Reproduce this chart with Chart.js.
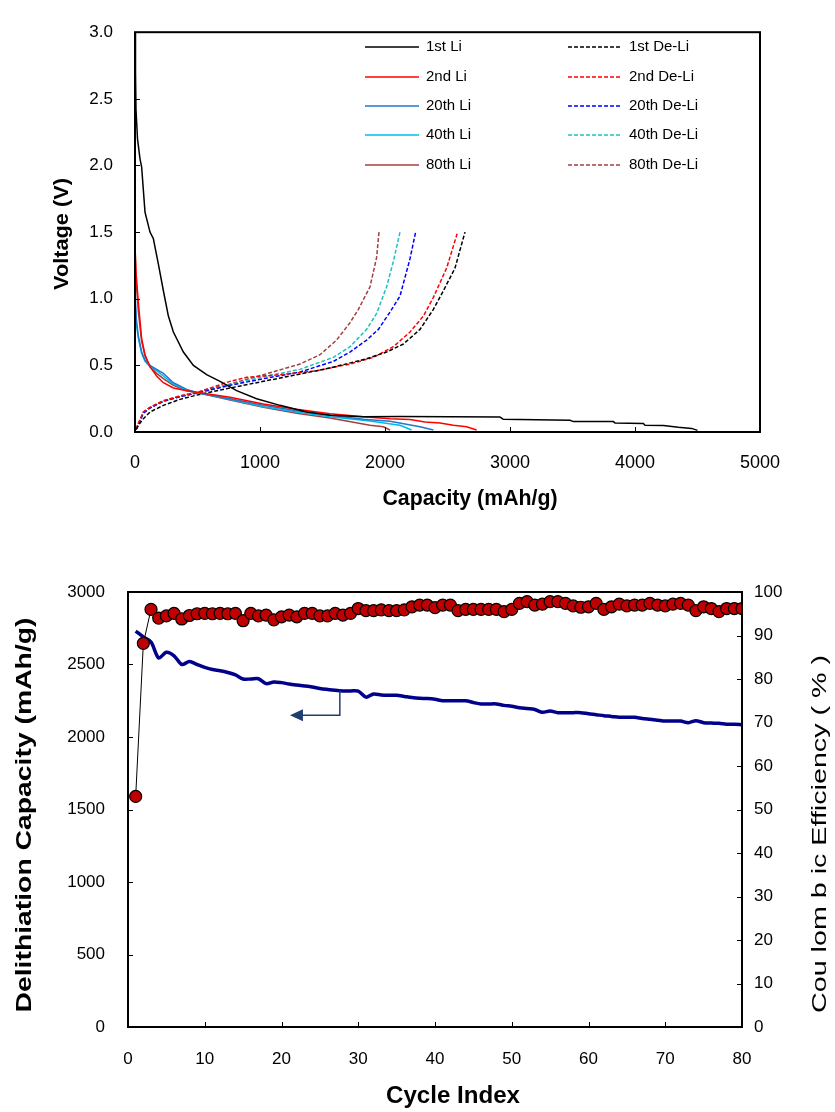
<!DOCTYPE html>
<html>
<head>
<meta charset="utf-8">
<script src="https://cdn.jsdelivr.net/npm/chart.js@4.4.1/dist/chart.umd.min.js"></script>
<style>
  body { margin: 0; background: #fff; }
  #wrap { position: relative; width: 835px; height: 1112px; }
  #top { position: absolute; left: 0; top: 0; }
  #bottom { position: absolute; left: 0; top: 540px; }
</style>
</head>
<body>
<div id="wrap">
  <canvas id="top" width="835" height="530"></canvas>
  <canvas id="bottom" width="835" height="572"></canvas>
</div>
<script>
// ---- voltage profiles: [capacity mAh/g, voltage V] ----
const li1 = [[0,3.0],[4,2.7],[8,2.42],[20,2.2],[40,2.05],[53,1.99],[80,1.65],[120,1.50],[147,1.45],[187,1.26],[227,1.06],[267,0.87],[307,0.75],[387,0.60],[467,0.50],[573,0.43],[680,0.38],[813,0.31],[973,0.25],[1160,0.20],[1373,0.15],[1560,0.125],[1827,0.115],[2120,0.117],[2920,0.112],[2947,0.095],[3480,0.088],[3507,0.078],[3827,0.078],[3840,0.068],[4067,0.063],[4080,0.05],[4227,0.049],[4347,0.035],[4453,0.027],[4500,0.012]];
const li2 = [[0,1.40],[8,1.2],[27,0.97],[53,0.70],[80,0.58],[120,0.49],[173,0.42],[227,0.37],[307,0.33],[413,0.31],[520,0.295],[760,0.26],[1027,0.21],[1293,0.17],[1560,0.137],[1827,0.115],[2040,0.10],[2200,0.093],[2320,0.075],[2440,0.068],[2547,0.051],[2653,0.039],[2733,0.015]];
const li20 = [[0,1.05],[10,0.85],[27,0.72],[53,0.60],[80,0.54],[120,0.50],[173,0.47],[227,0.44],[307,0.37],[413,0.32],[520,0.29],[760,0.25],[1027,0.20],[1293,0.16],[1560,0.125],[1827,0.095],[2040,0.08],[2280,0.04],[2387,0.015]];
const li40 = [[0,1.0],[10,0.82],[27,0.70],[53,0.59],[80,0.53],[120,0.49],[173,0.46],[227,0.42],[307,0.36],[413,0.315],[520,0.29],[760,0.245],[1027,0.19],[1293,0.15],[1560,0.115],[1880,0.083],[2120,0.05],[2213,0.015]];
const li80 = [[0,1.40],[8,1.15],[27,0.90],[53,0.68],[80,0.57],[120,0.49],[173,0.44],[227,0.40],[307,0.35],[413,0.31],[520,0.29],[760,0.24],[1027,0.185],[1293,0.14],[1560,0.105],[1880,0.05],[1987,0.039],[2040,0.015]];
const deli1 = [[10,0.02],[27,0.05],[67,0.10],[120,0.15],[227,0.20],[360,0.245],[507,0.28],[760,0.33],[1027,0.38],[1293,0.43],[1560,0.48],[1853,0.55],[2013,0.60],[2147,0.66],[2280,0.77],[2387,0.92],[2467,1.06],[2560,1.23],[2640,1.50]];
const deli2 = [[10,0.02],[27,0.063],[67,0.15],[120,0.185],[227,0.234],[360,0.27],[507,0.30],[760,0.38],[893,0.41],[1160,0.43],[1453,0.46],[1720,0.51],[1907,0.56],[2067,0.64],[2200,0.75],[2307,0.87],[2387,1.01],[2493,1.23],[2581,1.50]];
const deli20 = [[10,0.02],[27,0.06],[67,0.14],[120,0.18],[227,0.23],[360,0.265],[507,0.295],[760,0.35],[1027,0.40],[1320,0.45],[1587,0.53],[1720,0.60],[1853,0.69],[1947,0.77],[2040,0.90],[2120,1.02],[2200,1.30],[2245,1.50]];
const deli40 = [[10,0.02],[27,0.06],[67,0.14],[120,0.18],[227,0.23],[360,0.265],[507,0.295],[760,0.355],[1027,0.415],[1320,0.47],[1587,0.56],[1720,0.64],[1853,0.77],[1933,0.89],[2013,1.09],[2067,1.28],[2120,1.50]];
const deli80 = [[10,0.02],[27,0.065],[67,0.15],[120,0.185],[227,0.235],[360,0.27],[507,0.30],[760,0.36],[1027,0.43],[1320,0.51],[1480,0.58],[1613,0.69],[1720,0.82],[1787,0.92],[1880,1.09],[1933,1.31],[1952,1.50]];

// ---- cycling ----
const cycles = Array.from({length: 80}, (_, i) => i + 1);
const capacity = [2730,2690,2655,2545,2585,2560,2500,2520,2500,2480,
  2465,2457,2445,2428,2400,2400,2402,2368,2380,2375,
  2365,2358,2352,2345,2335,2328,2322,2318,2318,2316,
  2275,2297,2290,2288,2288,2280,2272,2267,2265,2260,
  2250,2250,2250,2250,2238,2228,2228,2228,2218,2212,
  2202,2196,2190,2170,2180,2168,2168,2168,2168,2160,
  2154,2147,2142,2136,2136,2136,2128,2122,2116,2110,
  2110,2110,2099,2112,2099,2096,2094,2088,2088,2085];
const efficiency = [53,88.2,96.0,94.0,94.5,95.1,93.8,94.6,95.0,95.1,
  95.0,95.1,95.0,95.1,93.4,95.1,94.5,94.7,93.6,94.3,
  94.7,94.3,95.1,95.1,94.5,94.5,95.1,94.7,95.1,96.2,
  95.7,95.7,95.9,95.7,95.7,95.9,96.6,97.0,97.0,96.4,
  97.0,97.0,95.7,96.0,96.0,96.0,96.0,96.0,95.5,96.0,
  97.4,97.8,97.0,97.2,97.8,97.8,97.4,96.8,96.5,96.6,
  97.4,96.0,96.6,97.2,96.8,97.0,97.0,97.4,97.0,96.8,
  97.2,97.4,97.0,95.7,96.6,96.2,95.5,96.2,96.2,96.2];

const FONT = "'Liberation Sans', Arial, sans-serif";
Chart.defaults.font.family = FONT;
Chart.defaults.color = '#000';

const pts = arr => arr.map(p => ({x: p[0], y: p[1]}));
const plain = v => String(v);

// text squeezed/stretched to a given length, like the stretched original figure
function fitText(ctx, text, cx, cy, rot, font, len) {
  ctx.save();
  ctx.font = font;
  const w = ctx.measureText(text).width;
  ctx.translate(cx, cy);
  ctx.rotate(rot);
  ctx.scale(len / w, 1);
  ctx.fillStyle = '#000';
  ctx.textAlign = 'center';
  ctx.textBaseline = 'middle';
  ctx.fillText(text, 0, 0);
  ctx.restore();
}

const boxTicks = {
  id: 'boxTicks',
  afterDatasetsDraw(chart) {
    const ctx = chart.ctx, a = chart.chartArea;
    ctx.save();
    ctx.strokeStyle = '#000';
    ctx.lineWidth = 1;
    Object.values(chart.scales).forEach(s => {
      s.ticks.forEach(t => {
        const p = Math.round(s.getPixelForValue(t.value)) + 0.5;
        ctx.beginPath();
        if (s.axis === 'x') { ctx.moveTo(p, a.bottom); ctx.lineTo(p, a.bottom - 5); }
        else if (s.position === 'left') { ctx.moveTo(a.left, p); ctx.lineTo(a.left + 5, p); }
        else { ctx.moveTo(a.right, p); ctx.lineTo(a.right - 5, p); }
        ctx.stroke();
      });
    });
    ctx.lineWidth = 2;
    ctx.strokeRect(a.left, a.top, a.width, a.height);
    ctx.restore();
  }
};

// legend inside the voltage plot, two columns, plus axis titles
const topExtras = {
  id: 'topExtras',
  afterDraw(chart) {
    const ctx = chart.ctx;
    const rows = [47, 77, 106, 135, 165];
    ctx.save();
    ctx.font = '15px ' + FONT;
    ctx.textBaseline = 'middle';
    chart.data.datasets.forEach((ds, i) => {
      const col = i < 5 ? 0 : 1;
      const y = rows[i % 5];
      const x0 = col === 0 ? 365 : 568;
      ctx.strokeStyle = ds.borderColor;
      ctx.lineWidth = ds.borderWidth;
      ctx.setLineDash(ds.borderDash || []);
      ctx.beginPath();
      ctx.moveTo(x0, y); ctx.lineTo(x0 + 54, y);
      ctx.stroke();
      ctx.setLineDash([]);
      ctx.fillStyle = '#000';
      ctx.fillText(ds.label, x0 + 61, y);
    });
    ctx.restore();
    fitText(ctx, 'Voltage (V)', 62, 234, -Math.PI / 2, 'bold 21px ' + FONT, 112);
    fitText(ctx, 'Capacity (mAh/g)', 470, 499, 0, 'bold 22px ' + FONT, 175);
  }
};

const curve = (label, data, color, dashed) => ({
  label, data: pts(data), borderColor: color, backgroundColor: color,
  borderWidth: 1.5, borderDash: dashed ? [4, 2] : [], pointRadius: 0, tension: 0, fill: false
});

new Chart(document.getElementById('top'), {
  type: 'line',
  data: {
    datasets: [
      curve('1st Li', li1, '#000000', false),
      curve('2nd Li', li2, '#ff0000', false),
      curve('20th Li', li20, '#1f78c8', false),
      curve('40th Li', li40, '#00b8f0', false),
      curve('80th Li', li80, '#a04040', false),
      curve('1st De-Li', deli1, '#000000', true),
      curve('2nd De-Li', deli2, '#ff0000', true),
      curve('20th De-Li', deli20, '#0000ff', true),
      curve('40th De-Li', deli40, '#20c0c0', true),
      curve('80th De-Li', deli80, '#a04040', true)
    ]
  },
  options: {
    responsive: false,
    animation: false,
    layout: { padding: { left: 0, right: 75, top: 22, bottom: 0 } },
    plugins: { legend: { display: false }, tooltip: { enabled: false } },
    scales: {
      x: {
        type: 'linear', min: 0, max: 5000,
        afterFit: s => { s.height = 98; },
        grid: { display: false, drawTicks: false },
        border: { display: false },
        ticks: { stepSize: 1000, padding: 20, font: { size: 18 }, callback: plain }
      },
      y: {
        min: 0, max: 3.0,
        afterFit: s => { s.width = 135; },
        grid: { display: false, drawTicks: false },
        border: { display: false },
        ticks: { stepSize: 0.5, padding: 22, font: { size: 17 }, callback: v => v.toFixed(1) }
      }
    }
  },
  plugins: [boxTicks, topExtras]
});

// arrow pointing to the capacity axis + axis titles
const bottomExtras = {
  id: 'bottomExtras',
  afterDraw(chart) {
    const ctx = chart.ctx, xs = chart.scales.x, ys = chart.scales.y;
    const x1 = xs.getPixelForValue(27.6), xTip = xs.getPixelForValue(21.1);
    const yTop = ys.getPixelForValue(2319), yBot = ys.getPixelForValue(2150);
    ctx.save();
    ctx.strokeStyle = '#1f3f6f';
    ctx.fillStyle = '#1f3f6f';
    ctx.lineWidth = 1.5;
    ctx.beginPath();
    ctx.moveTo(x1, yTop); ctx.lineTo(x1, yBot); ctx.lineTo(xTip + 11, yBot);
    ctx.stroke();
    ctx.beginPath();
    ctx.moveTo(xTip, yBot); ctx.lineTo(xTip + 13, yBot - 6); ctx.lineTo(xTip + 13, yBot + 6);
    ctx.closePath(); ctx.fill();
    ctx.restore();

    fitText(ctx, 'Delithiation Capacity (mAh/g)', 25, 275, -Math.PI / 2, 'bold 22px ' + FONT, 395);
    fitText(ctx, 'Cycle Index', 453, 556, 0, 'bold 24px ' + FONT, 134);
    fitText(ctx, 'Cou lom b ic Efficiency ( % )', 820, 294, -Math.PI / 2, '20px ' + FONT, 358);
  }
};

new Chart(document.getElementById('bottom'), {
  type: 'line',
  data: {
    labels: cycles,
    datasets: [
      {
        label: 'Coulombic Efficiency', yAxisID: 'y1',
        data: cycles.map((c, i) => ({x: c, y: efficiency[i]})),
        borderColor: '#000', borderWidth: 1,
        pointRadius: 6, pointBackgroundColor: '#c00000', pointBorderColor: '#000', pointBorderWidth: 1.2,
        tension: 0, order: 1
      },
      {
        label: 'Delithiation Capacity', yAxisID: 'y',
        data: cycles.map((c, i) => ({x: c, y: capacity[i]})),
        borderColor: '#00008b', borderWidth: 3.5, pointRadius: 0, tension: 0.3, order: 2
      }
    ]
  },
  options: {
    responsive: false,
    animation: false,
    layout: { padding: { left: 0, right: 0, top: 52, bottom: 0 } },
    plugins: { legend: { display: false }, tooltip: { enabled: false } },
    scales: {
      x: {
        type: 'linear', min: 0, max: 80,
        afterFit: s => { s.height = 85; },
        grid: { display: false, drawTicks: false },
        border: { display: false },
        ticks: { stepSize: 10, padding: 22, font: { size: 17 }, callback: plain }
      },
      y: {
        position: 'left', min: 0, max: 3000,
        afterFit: s => { s.width = 128; },
        grid: { display: false, drawTicks: false },
        border: { display: false },
        ticks: { stepSize: 500, padding: 23, font: { size: 17 }, callback: plain }
      },
      y1: {
        position: 'right', min: 0, max: 100,
        afterFit: s => { s.width = 93; },
        grid: { display: false, drawTicks: false },
        border: { display: false },
        ticks: { stepSize: 10, padding: 12, font: { size: 17 }, callback: plain }
      }
    }
  },
  plugins: [boxTicks, bottomExtras]
});
</script>
</body>
</html>
